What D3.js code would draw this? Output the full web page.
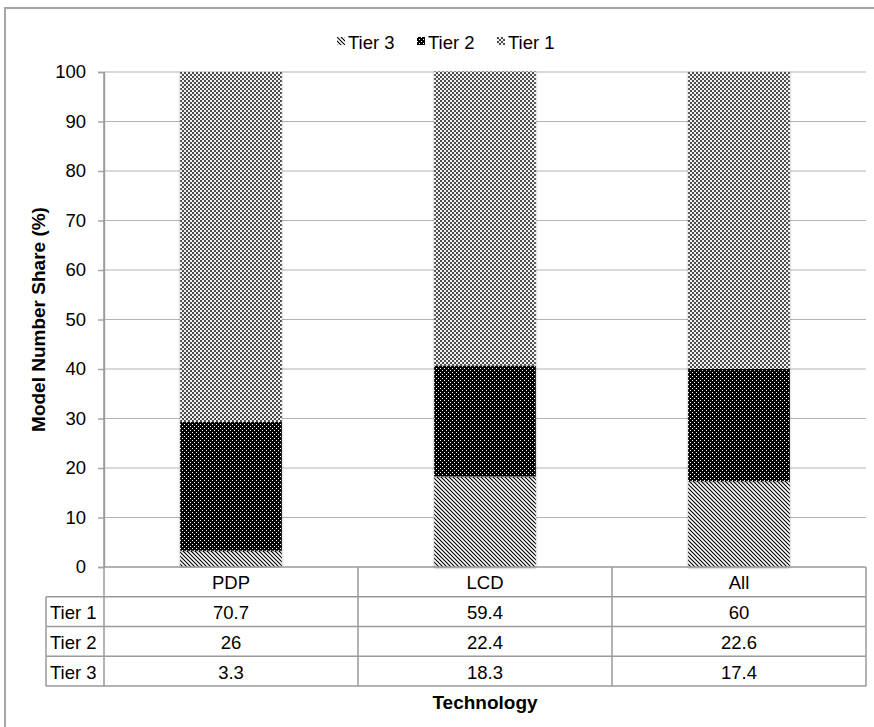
<!DOCTYPE html>
<html>
<head>
<meta charset="utf-8">
<script src="https://cdn.jsdelivr.net/npm/d3@7"></script>
<style>
  body { margin: 0; background: #fff; }
  svg { font-family: "Liberation Sans", Arial, sans-serif; }
  .grid line { stroke: #b3b3b3; stroke-width: 1; }
  .tbl line { stroke: #9a9a9a; stroke-width: 1.5; }
</style>
</head>
<body>
<svg id="chart"></svg>
<script>
const categories = ["PDP", "LCD", "All"];
const tier1 = [70.7, 59.4, 60];
const tier2 = [26, 22.4, 22.6];
const tier3 = [3.3, 18.3, 17.4];
const yTicks = [0, 10, 20, 30, 40, 50, 60, 70, 80, 90, 100];

const svg = d3.select("#chart")
    .attr("width", 874)
    .attr("height", 727);

const rows = categories.map((c, i) => ({ cat: c, "Tier 1": tier1[i], "Tier 2": tier2[i], "Tier 3": tier3[i] }));
const keys = ["Tier 3", "Tier 2", "Tier 1"];
const stacked = d3.stack().keys(keys)(rows);

const plotLeft = 104, plotRight = 866, plotTop = 72, plotBottom = 567;

const x = d3.scaleBand()
    .domain(categories)
    .range([plotLeft, plotRight]);

const y = d3.scaleLinear()
    .domain([0, 100])
    .range([plotBottom, plotTop]);

// patterns
const defs = svg.append("defs");

const p3 = defs.append("pattern")
    .attr("id", "pat-tier3")
    .attr("patternUnits", "userSpaceOnUse")
    .attr("width", 4).attr("height", 4);
p3.append("rect").attr("width", 4).attr("height", 4).attr("fill", "#fff");
p3.append("path").attr("d", "M-1,-1 L5,5 M-1,3 L1,5 M3,-1 L5,1")
    .attr("stroke", "#000").attr("stroke-width", 1.1);

const p2 = defs.append("pattern")
    .attr("id", "pat-tier2")
    .attr("patternUnits", "userSpaceOnUse")
    .attr("width", 4).attr("height", 4);
p2.append("rect").attr("width", 4).attr("height", 4).attr("fill", "#000");
p2.append("rect").attr("x", 0).attr("y", 0).attr("width", 1).attr("height", 1).attr("fill", "#fff");
p2.append("rect").attr("x", 2).attr("y", 2).attr("width", 1).attr("height", 1).attr("fill", "#fff");

const p1 = defs.append("pattern")
    .attr("id", "pat-tier1")
    .attr("patternUnits", "userSpaceOnUse")
    .attr("width", 4).attr("height", 4);
p1.append("rect").attr("width", 4).attr("height", 4).attr("fill", "#f2f2f2");
p1.append("rect").attr("x", 0).attr("y", 0).attr("width", 2).attr("height", 2).attr("fill", "#4e4e4e");
p1.append("rect").attr("x", 2).attr("y", 2).attr("width", 2).attr("height", 2).attr("fill", "#4e4e4e");

const fills = { "Tier 3": "url(#pat-tier3)", "Tier 2": "url(#pat-tier2)", "Tier 1": "url(#pat-tier1)" };

const shadow = defs.append("filter").attr("id", "shadow")
    .attr("x", "-10%").attr("y", "-5%").attr("width", "120%").attr("height", "110%");
shadow.append("feDropShadow")
    .attr("dx", 0).attr("dy", 1).attr("stdDeviation", 1.2)
    .attr("flood-color", "#000").attr("flood-opacity", 0.35);

// outer frame
svg.append("rect")
    .attr("x", 5).attr("y", 8)
    .attr("width", 880).attr("height", 740)
    .attr("fill", "none")
    .attr("stroke", "#a6a6a6")
    .attr("stroke-width", 2);

// grid
svg.append("g")
    .attr("class", "grid")
    .selectAll("line")
    .data(yTicks.filter(d => d > 0))
    .enter().append("line")
    .attr("x1", plotLeft).attr("x2", plotRight)
    .attr("y1", d => y(d)).attr("y2", d => y(d));

// y axis
const yAxis = svg.append("g")
    .attr("transform", `translate(${plotLeft},0)`)
    .call(d3.axisLeft(y).tickValues(yTicks).tickSize(6).tickPadding(12));
yAxis.select(".domain").attr("stroke", "#a6a6a6").attr("stroke-width", 1.5);
yAxis.selectAll(".tick line").attr("stroke", "#a6a6a6").attr("stroke-width", 1.5);
yAxis.selectAll(".tick text")
    .attr("font-size", 18.5)
    .attr("font-family", "Liberation Sans, Arial, sans-serif")
    .attr("fill", "#000");

// bars
const bw = x.bandwidth() * 0.4;
svg.append("g")
    .selectAll("g")
    .data(stacked)
    .enter().append("g")
    .attr("fill", d => fills[d.key])
    .selectAll("rect")
    .data(d => d)
    .enter().append("rect")
    .attr("x", d => x(d.data.cat) + (x.bandwidth() - bw) / 2)
    .attr("y", d => y(d[1]))
    .attr("width", bw)
    .attr("height", d => y(d[0]) - y(d[1]))
    .attr("filter", "url(#shadow)");

// data table
const tblRows = [
    { label: "Tier 1", values: tier1 },
    { label: "Tier 2", values: tier2 },
    { label: "Tier 3", values: tier3 }
];
const rowH = (686 - plotBottom) / 4;
const labelLeft = 46;
const tbl = svg.append("g").attr("class", "tbl");

// horizontal lines
tbl.append("line").attr("x1", plotLeft).attr("x2", plotRight).attr("y1", plotBottom).attr("y2", plotBottom);
d3.range(1, 5).forEach(i => {
    tbl.append("line")
        .attr("x1", labelLeft).attr("x2", plotRight)
        .attr("y1", plotBottom + i * rowH).attr("y2", plotBottom + i * rowH);
});
// vertical lines
tbl.append("line").attr("x1", labelLeft).attr("x2", labelLeft)
    .attr("y1", plotBottom + rowH).attr("y2", plotBottom + 4 * rowH);
categories.forEach(c => {
    tbl.append("line").attr("x1", x(c)).attr("x2", x(c))
        .attr("y1", x(c) === plotLeft ? plotTop : plotBottom).attr("y2", plotBottom + 4 * rowH);
});
tbl.append("line").attr("x1", plotRight).attr("x2", plotRight)
    .attr("y1", plotBottom).attr("y2", plotBottom + 4 * rowH);

const textStyle = sel => sel
    .attr("font-size", 18.5)
    .attr("fill", "#000")
    .attr("dominant-baseline", "central");

svg.append("g").selectAll("text")
    .data(categories)
    .enter().append("text")
    .attr("x", d => x(d) + x.bandwidth() / 2)
    .attr("y", plotBottom + rowH / 2 + 1)
    .attr("text-anchor", "middle")
    .text(d => d)
    .call(textStyle);

tblRows.forEach((r, i) => {
    const cy = plotBottom + (i + 1.5) * rowH + 1;
    svg.append("text")
        .attr("x", labelLeft + 4)
        .attr("y", cy)
        .text(r.label)
        .call(textStyle);
    svg.append("g").selectAll("text")
        .data(r.values)
        .enter().append("text")
        .attr("x", (d, j) => x(categories[j]) + x.bandwidth() / 2)
        .attr("y", cy)
        .attr("text-anchor", "middle")
        .text(d => d)
        .call(textStyle);
});

// axis titles
svg.append("text")
    .attr("x", (plotLeft + plotRight) / 2)
    .attr("y", 702)
    .attr("text-anchor", "middle")
    .attr("dominant-baseline", "central")
    .attr("font-size", 19)
    .attr("font-weight", "bold")
    .text("Technology");

svg.append("text")
    .attr("transform", `translate(38,${(plotTop + plotBottom) / 2}) rotate(-90)`)
    .attr("text-anchor", "middle")
    .attr("dominant-baseline", "central")
    .attr("font-size", 19)
    .attr("font-weight", "bold")
    .text("Model Number Share (%)");

// legend
const legend = svg.append("g")
    .selectAll("g")
    .data(keys)
    .enter().append("g")
    .attr("transform", (d, i) => `translate(${337 + i * 80},41)`);
legend.append("rect")
    .attr("x", 0).attr("y", -4)
    .attr("width", 8).attr("height", 8)
    .attr("fill", d => fills[d]);
legend.append("text")
    .attr("x", 11)
    .attr("y", 1)
    .attr("dominant-baseline", "central")
    .attr("font-size", 18.5)
    .text(d => d);
</script>
</body>
</html>
